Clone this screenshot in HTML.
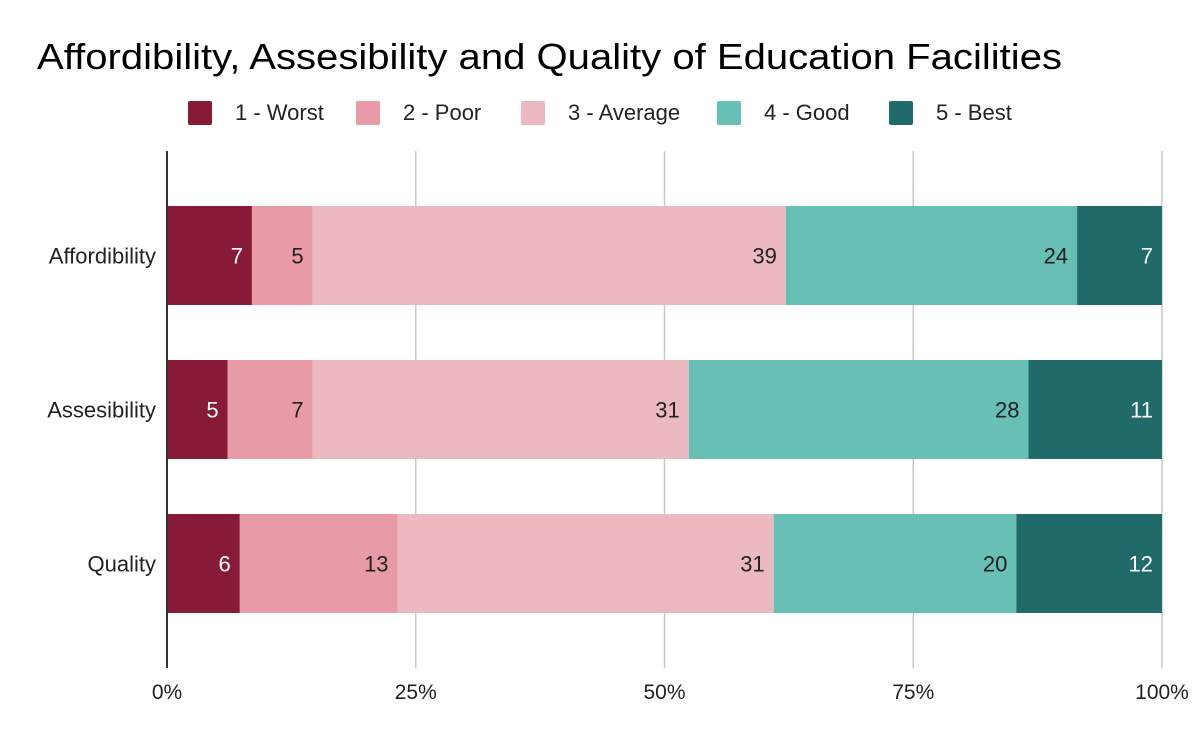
<!DOCTYPE html>
<html><head><meta charset="utf-8"><style>
html,body{margin:0;padding:0;background:#fff;}
svg{display:block;font-family:"Liberation Sans",Arial,sans-serif;}
</style></head><body>
<svg id="chart" width="1200" height="742" viewBox="0 0 1200 742">
<text x="37" y="69" font-size="36" fill="#000" textLength="1025" lengthAdjust="spacingAndGlyphs">Affordibility, Assesibility and Quality of Education Facilities</text>
<g id="legend"></g>
<g id="grid"></g>
<g id="bars"></g>
<g id="axes"></g>
</svg>
<script>
const categories = ["Affordibility", "Assesibility", "Quality"];
const seriesNames = ["1 - Worst", "2 - Poor", "3 - Average", "4 - Good", "5 - Best"];
const worst = [7, 5, 6];
const poor = [5, 7, 13];
const average = [39, 31, 31];
const good = [24, 28, 20];
const best = [7, 11, 12];
const tickLabels = ["0%", "25%", "50%", "75%", "100%"];
const tickValues = [0, 0.25, 0.5, 0.75, 1];

const series = [worst, poor, average, good, best];
const colors = ["#861a37", "#e89aa6", "#edb9c1", "#67bfb6", "#216a6a"];
const textColors = ["#fff", "#222", "#222", "#222", "#fff"];
const NS = "http://www.w3.org/2000/svg";
const x0 = 167, x1 = 1162, plotTop = 151, plotBottom = 668;
const bandH = 154;
const barH = 99;
const plotMid = (plotTop + plotBottom) / 2;
const xs = v => x0 + v * (x1 - x0);
const yBand = i => plotMid + (i - (categories.length - 1) / 2) * bandH - barH / 2;
function mk(tag, attrs, parent) { const e = document.createElementNS(NS, tag); for (const k in attrs) e.setAttribute(k, attrs[k]); parent.appendChild(e); return e; }

const grid = document.getElementById('grid');
tickValues.forEach((t, i) => {
  if (t > 0) {
    const l = mk('line', {x1: xs(t), x2: xs(t), y1: plotTop, y2: plotBottom, stroke: '#c8c8c8', 'stroke-width': 1.5}, grid);
    
    
  }
  const tx = mk('text', {x: xs(t), y: 699, 'font-size': 21, 'text-anchor': 'middle', fill: '#222'}, grid);
  tx.textContent = tickLabels[i];
  
  
});

const bars = document.getElementById('bars');
categories.forEach((c, i) => {
  const total = series.reduce((s, a) => s + a[i], 0);
  let cum = 0;
  const y = yBand(i);
  series.forEach((a, k) => {
    const v = a[i];
    const xa = xs(cum / total), xb = xs((cum + v) / total);
    const r = mk('rect', {x: xa, y: y, width: xb - xa, height: barH, fill: colors[k]}, bars);
    
    
    const t = mk('text', {x: xb - 9, y: y + barH / 2 + 8, 'font-size': 22, 'text-anchor': 'end', fill: textColors[k]}, bars);
    t.textContent = v;
    
    
    cum += v;
  });
  const lab = mk('text', {x: 156, y: y + barH / 2 + 8, 'font-size': 22, 'text-anchor': 'end', fill: '#222'}, bars);
  lab.textContent = c;
  
  
});

const axes = document.getElementById('axes');
const ax = mk('line', {x1: x0, x2: x0, y1: plotTop, y2: plotBottom, stroke: '#333', 'stroke-width': 2}, axes);



const legend = document.getElementById('legend');
const swX = [188, 356, 521, 717, 889];
seriesNames.forEach((n, k) => {
  const r = mk('rect', {x: swX[k], y: 101, width: 24, height: 24, rx: 2, fill: colors[k]}, legend);
  
  
  const t = mk('text', {x: swX[k] + 47, y: 120, 'font-size': 22, fill: '#222'}, legend);
  t.textContent = n;
  
  
});
</script>
</body></html>
